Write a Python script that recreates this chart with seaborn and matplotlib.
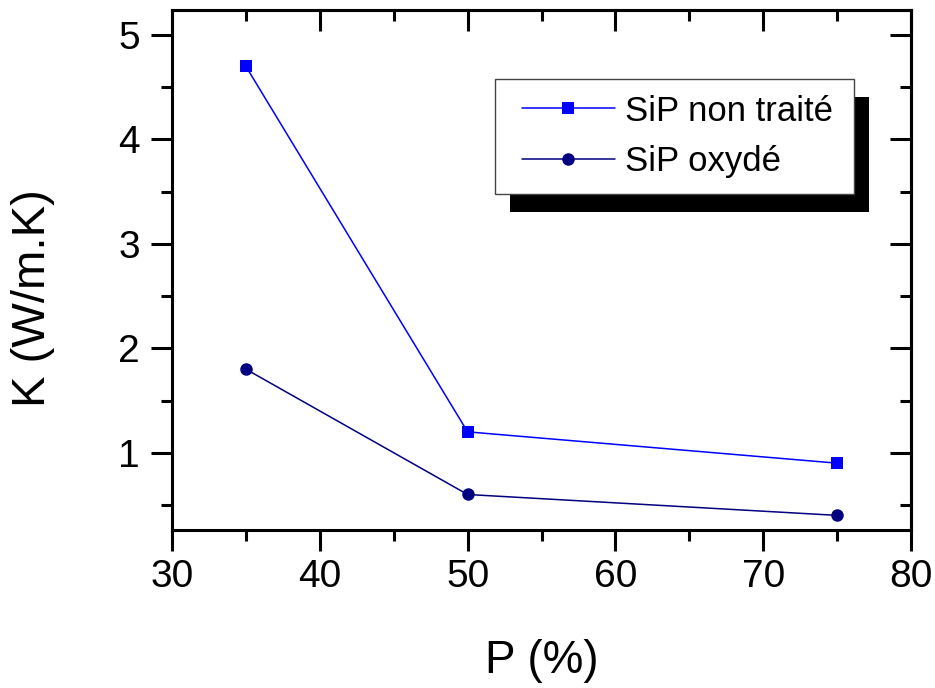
import matplotlib
matplotlib.use("Agg")
import matplotlib.pyplot as plt
import seaborn as sns
import pandas as pd
from matplotlib.patches import Rectangle
from matplotlib.lines import Line2D
from matplotlib.legend_handler import HandlerLine2D
from matplotlib.ticker import MultipleLocator

porosity = [35, 50, 75]
k_untreated = [4.7, 1.2, 0.9]
k_oxidized = [1.8, 0.6, 0.4]
series_names = ["SiP non traité", "SiP oxydé"]
series_colors = ["#0000FF", "#000080"]
series_markers = ["s", "o"]

df = pd.DataFrame({
    "P": porosity * 2,
    "K": k_untreated + k_oxidized,
    "series": [series_names[0]] * 3 + [series_names[1]] * 3,
})

sns.set_theme(style="ticks")
plt.rcParams["font.family"] = ["Liberation Sans", "DejaVu Sans"]
plt.rcParams["text.color"] = "black"
plt.rcParams["axes.labelcolor"] = "black"

fig = plt.figure(figsize=(9.35, 6.88), dpi=100)
ax = fig.add_axes([172 / 935, 1 - 530 / 688, (911 - 172) / 935, 520 / 688])

sns.lineplot(
    data=df, x="P", y="K", hue="series", style="series",
    palette=dict(zip(series_names, series_colors)),
    markers=dict(zip(series_names, series_markers)),
    dashes=False, markersize=9, linewidth=1.1,
    markeredgewidth=0, ax=ax, legend=False,
)

ax.set_xlim(30, 80)
ax.set_ylim(0.26, 5.24)
ax.xaxis.set_major_locator(MultipleLocator(10))
ax.xaxis.set_minor_locator(MultipleLocator(5))
ax.yaxis.set_major_locator(MultipleLocator(1))
ax.yaxis.set_minor_locator(MultipleLocator(0.5))

for s in ax.spines.values():
    s.set_visible(True)
    s.set_linewidth(2.2)
    s.set_color("black")

ax.tick_params(which="both", direction="out", width=2.2, colors="black",
               labelcolor="black", labelsize=28, top=False, right=False)
ax.tick_params(which="major", length=15)
ax.tick_params(which="minor", length=8)
ax.tick_params(axis="y", which="major", pad=8)
ax.tick_params(axis="x", which="major", pad=6)

# mirrored inward ticks on top and right
axt = ax.secondary_xaxis("top")
axt.xaxis.set_major_locator(MultipleLocator(10))
axt.xaxis.set_minor_locator(MultipleLocator(5))
axt.tick_params(which="both", direction="in", width=2.2, colors="black", labeltop=False)
axt.tick_params(which="major", length=15)
axt.tick_params(which="minor", length=8)
axt.spines["top"].set_linewidth(2.2)
axr = ax.secondary_yaxis("right")
axr.yaxis.set_major_locator(MultipleLocator(1))
axr.yaxis.set_minor_locator(MultipleLocator(0.5))
axr.tick_params(which="both", direction="in", width=2.2, colors="black", labelright=False)
axr.tick_params(which="major", length=15)
axr.tick_params(which="minor", length=8)
axr.spines["right"].set_linewidth(2.2)

ax.set_xlabel("P (%)", fontsize=33)
ax.set_ylabel("K (W/m.K)", fontsize=34)
ax.xaxis.set_label_coords(0.5, -0.21)
ax.yaxis.set_label_coords(-0.158, 0.446)

handles = [
    Line2D([], [], color=c, marker=m, markersize=9, markeredgewidth=0, linewidth=1.1)
    for c, m in zip(series_colors, series_markers)
]
leg_fs = 25
leg_x0 = (495 - 172) / 739
leg_w = (854 - 495) / 739
leg_top = (530 - 79) / 520
leg_h = (190 - 79) / 520
leg = ax.legend(handles, series_names, loc="upper left",
                bbox_to_anchor=(leg_x0, leg_top - leg_h, leg_w, leg_h),
                mode="expand", borderaxespad=0,
                fontsize=leg_fs, frameon=True, fancybox=False, framealpha=1,
                handlelength=3.0, handletextpad=0.29, borderpad=0.45,
                labelspacing=0.5, numpoints=1,
                handler_map={Line2D: HandlerLine2D(xpad=0.33)})
leg.get_frame().set_edgecolor("#444444")
leg.get_frame().set_linewidth(1.0)
leg.set_zorder(6)

fig.canvas.draw()
bb = leg.get_window_extent().transformed(ax.transAxes.inverted())
dx = 15 / 739
dy = 18 / 520
ax.add_patch(Rectangle((bb.x0 + dx, bb.y0 - dy), bb.width, bb.height,
                       transform=ax.transAxes, facecolor="black",
                       edgecolor="none", zorder=5.5, clip_on=False))

fig.savefig("out.png", dpi=100)
